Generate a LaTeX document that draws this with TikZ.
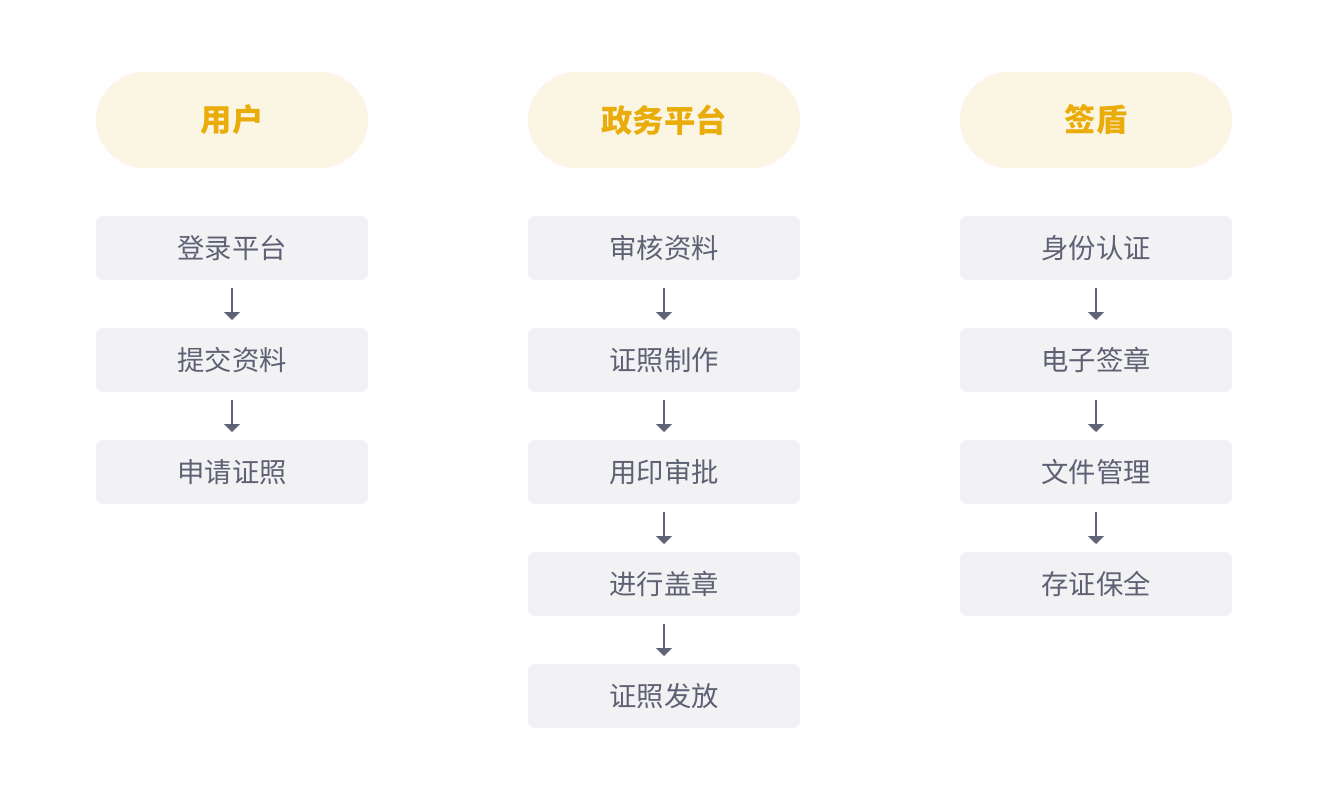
\documentclass[tikz,border=0pt]{standalone}
\usepackage{fontspec}
\newfontfamily\cjk{Noto Sans CJK SC}
\usetikzlibrary{positioning}
\usetikzlibrary{arrows.meta}
\definecolor{pillfill}{HTML}{FBF6E3}
\definecolor{pilltext}{HTML}{E9AC0A}
\definecolor{boxfill}{HTML}{F2F2F4}
\definecolor{boxtext}{HTML}{5E6173}
\definecolor{arrowcol}{HTML}{5F6378}
\tikzset{
    head/.style={fill=pillfill,text=pilltext,minimum width=204pt,minimum height=72pt,outer sep=0pt,
        rounded corners=36pt,font=\cjk\fontsize{23.5}{27}\selectfont\bfseries},
    stepbox/.style={fill=boxfill,text=boxtext,minimum width=204pt,minimum height=48pt,outer sep=0pt,
        rounded corners=5pt,font=\cjk\fontsize{20.5}{24}\selectfont},
    flow/.style={draw=arrowcol,line width=1.5pt,-{Triangle[width=12pt,length=6pt]},
        shorten >=6pt,shorten <=6pt}
}
\begin{document}
\begin{tikzpicture}[x=0.75pt,y=-0.75pt,node distance=36pt]
    \useasboundingbox (0,0) rectangle (1328,804);
    % headers
    \node[head] (user) at (232,120) {用户};
    \node[head] (gov) at (664,120) {政务平台};
    \node[head] (sign) at (1096,120) {签盾};
    % user column
    \node[stepbox] (u1) [below=of user] {登录平台};
    \node[stepbox] (u2) [below=of u1] {提交资料};
    \node[stepbox] (u3) [below=of u2] {申请证照};
    % gov column
    \node[stepbox] (g1) [below=of gov] {审核资料};
    \node[stepbox] (g2) [below=of g1] {证照制作};
    \node[stepbox] (g3) [below=of g2] {用印审批};
    \node[stepbox] (g4) [below=of g3] {进行盖章};
    \node[stepbox] (g5) [below=of g4] {证照发放};
    % sign column
    \node[stepbox] (s1) [below=of sign] {身份认证};
    \node[stepbox] (s2) [below=of s1] {电子签章};
    \node[stepbox] (s3) [below=of s2] {文件管理};
    \node[stepbox] (s4) [below=of s3] {存证保全};
    \draw[flow] (u1) -- (u2);
    \draw[flow] (u2) -- (u3);
    \draw[flow] (g1) -- (g2);
    \draw[flow] (g2) -- (g3);
    \draw[flow] (g3) -- (g4);
    \draw[flow] (g4) -- (g5);
    \draw[flow] (s1) -- (s2);
    \draw[flow] (s2) -- (s3);
    \draw[flow] (s3) -- (s4);
\end{tikzpicture}
\end{document}
